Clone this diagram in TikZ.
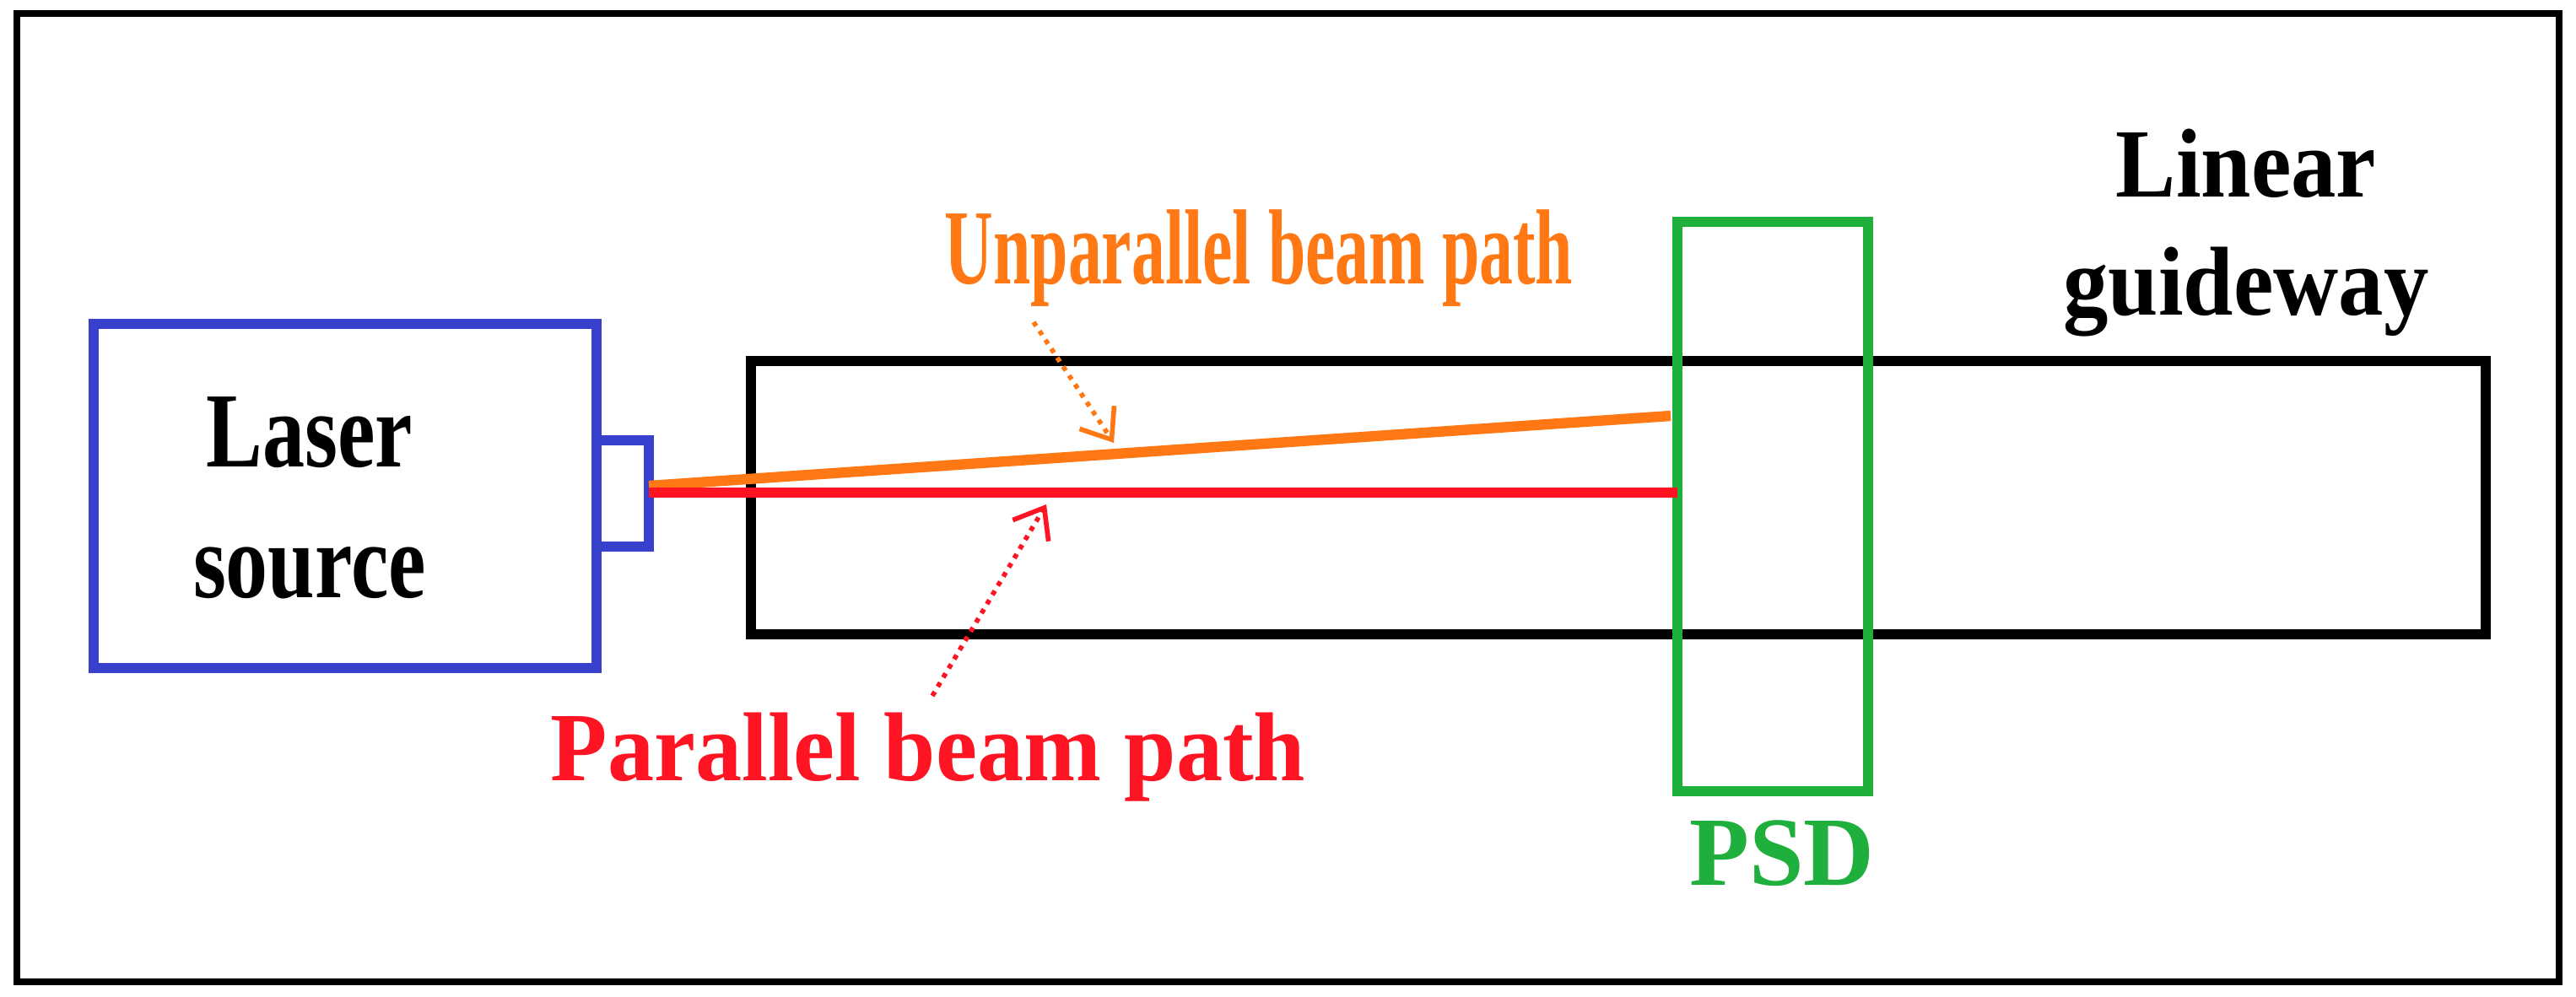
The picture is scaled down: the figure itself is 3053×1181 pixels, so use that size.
\documentclass[tikz,border=0pt]{standalone}
\usepackage{fontspec}
\usepackage{graphicx}
\setmainfont{Liberation Serif}
\usetikzlibrary{arrows.meta}
\definecolor{lblue}{RGB}{55,65,205}
\definecolor{lgreen}{RGB}{30,175,60}
\definecolor{lorange}{RGB}{255,120,20}
\definecolor{lred}{RGB}{255,20,35}
\newcommand{\sq}[2]{\scalebox{#1}[1]{#2}}
\begin{document}
\begin{tikzpicture}[x=0.01cm,y=-0.01cm,
  box/.style={line width=3.5pt},
  lbl/.style={font=\fontsize{33}{40}\selectfont\bfseries,align=center},
  big/.style={font=\fontsize{36}{44}\selectfont\bfseries,align=center},
  ptr/.style={dotted,line width=1.6pt,-{Straight Barb[length=9pt,width=14pt]}}]
\useasboundingbox (0,0) rectangle (3053,1181);
\draw[line width=2.2pt] (20,16) rectangle (3033,1164);
\draw[box,lblue] (111,384) rectangle (707,792);
\draw[box,lblue] (707,522) rectangle (769,648);
\draw[box,black] (890,428) rectangle (2946,752);
\draw[box,lgreen] (1988,263) rectangle (2214,938);
\coordinate (o1) at (769,576); \coordinate (o2) at (1980,493);
\coordinate (r1) at (769,584); \coordinate (r2) at (1988,584);
\draw[lorange,line width=3.5pt] (o1) -- (o2);
\draw[lred,line width=3.5pt] (r1) -- (r2);
\node[big] (ls) at (367,590) {\sq{0.79}{Laser}\\\sq{0.79}{source}};
\node[big,text=lorange] (up) at (1492,306) {\sq{0.63}{Unparallel beam path}};
\node[lbl,text=lred] (pp) at (1100,898) {\sq{0.95}{Parallel beam path}};
\node[lbl,text=lgreen] (psd) at (2112,1012) {PSD};
\node[lbl] (lg) at (2662,276) {\sq{0.92}{Linear}\\\sq{0.92}{guideway}};
\coordinate (ot) at (1320,525); \coordinate (rt) at (1240,598);
\draw[ptr,lorange] (up.south -| 1225,0) ++(0,6) -- (ot);
\draw[ptr,lred] (pp.north -| 1105,0) ++(0,-8) -- (rt);
\end{tikzpicture}
\end{document}
